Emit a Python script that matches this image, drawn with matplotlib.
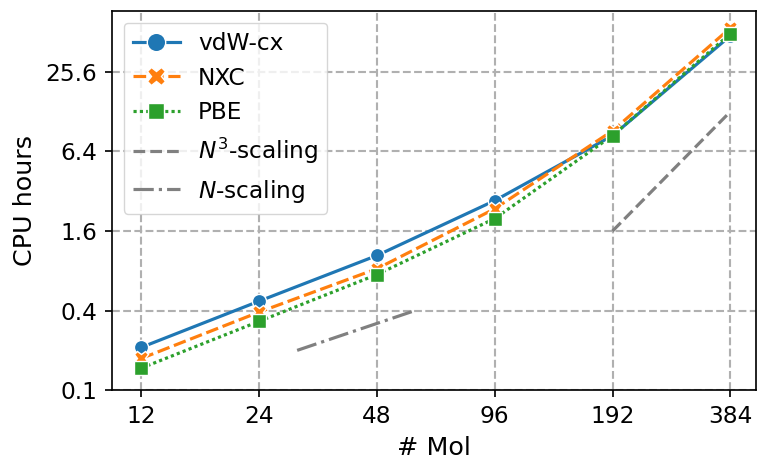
import matplotlib
matplotlib.use("Agg")
import matplotlib.pyplot as plt
from matplotlib.ticker import FixedLocator, FixedFormatter, NullLocator

n_mol = [12, 24, 48, 96, 192, 384]
vdw_cx = [0.211, 0.472, 1.045, 2.72, 8.44, 48.0]
nxc = [0.174, 0.39, 0.83, 2.36, 9.18, 55.0]
pbe = [0.147, 0.332, 0.75, 1.99, 8.44, 49.8]

n3_x = [192, 384]
n3_y = [1.6, 12.8]
n1_x = [30, 60]
n1_y = [0.2, 0.4]

xticks = [12, 24, 48, 96, 192, 384]
yticks = [0.1, 0.4, 1.6, 6.4, 25.6]
ytick_labels = ["0.1", "0.4", "1.6", "6.4", "25.6"]

S = 1.52
plt.rcParams['font.size'] = 11 * S

fig = plt.figure(figsize=(7.58, 4.59), dpi=100)
ax = fig.add_axes([0.148, 0.150, 0.850, 0.826])

lw = 1.5 * S
mew = 1.0
ax.plot(n_mol, vdw_cx, color='#1f77b4', lw=lw, ls='-', marker='o', ms=10.2,
        mec='white', mew=mew, label='vdW-cx', zorder=5)
ax.plot(n_mol, nxc, color='#ff7f0e', lw=lw, ls=(0, (4, 1.5)), marker='X', ms=10.5,
        mec='white', mew=mew, label='NXC', zorder=5)
ax.plot(n_mol, pbe, color='#2ca02c', lw=lw, ls=(0, (1, 1)), marker='s', ms=9.4,
        mec='white', mew=mew, label='PBE', zorder=5)
ax.plot(n3_x, n3_y, color='gray', lw=lw, ls='--', label='$N^3$-scaling', zorder=4)
ax.plot(n1_x, n1_y, color='gray', lw=lw, ls='-.', label='$N$-scaling', zorder=4)

ax.set_xscale('log', base=2)
ax.set_yscale('log')
ax.set_xlim(10.1, 448)
ax.set_ylim(0.1, 74)

ax.xaxis.set_major_locator(FixedLocator(xticks))
ax.xaxis.set_major_formatter(FixedFormatter([str(v) for v in xticks]))
ax.xaxis.set_minor_locator(NullLocator())
ax.yaxis.set_major_locator(FixedLocator(yticks))
ax.yaxis.set_major_formatter(FixedFormatter(ytick_labels))
ax.yaxis.set_minor_locator(NullLocator())

ax.grid(True, which='major', ls='--', color='#b0b0b0', lw=1.0 * S)
ax.set_axisbelow(True)
ax.tick_params(length=3.5 * S, width=0.8 * S, pad=3.5 * S, labelsize=11 * S)
for s in ax.spines.values():
    s.set_linewidth(0.8 * S)

ax.set_xlabel('# Mol', fontsize=12 * S, labelpad=4 * S)
ax.set_ylabel('CPU hours', fontsize=12 * S, labelpad=4 * S)

ax.legend(loc='upper left', fontsize=11 * S, framealpha=0.8, markerscale=1.3)

fig.savefig('out.png', dpi=100)
